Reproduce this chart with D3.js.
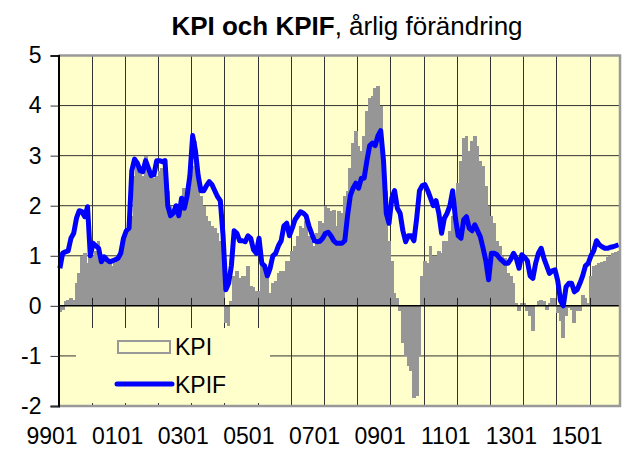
<!DOCTYPE html>
<html lang="sv">
  <head>
    <meta charset="UTF-8" />
    <title>KPI och KPIF</title>
    <script src="https://d3js.org/d3.v7.min.js"></script>
    <style>
      body { margin: 0; background: #fff; }
      svg text { font-family: "Liberation Sans", Arial, sans-serif; fill: #000; }
    </style>
  </head>
  <body>
    <div id="chart"></div>
    <script>
      // monthly values, 9901 .. 1511
      var kpi = [
        -0.12, -0.08, 0.1, 0.12, 0.15, 0.12, 0.45, 0.65, 1.0, 1.05, 0.85, 1.3, // 1999
        1.0, 1.1, 1.3, 0.85, 1.0, 0.9, 0.85, 0.8, 0.85, 0.9, 1.1, 1.3, // 2000
        1.5, 1.6, 1.8, 2.6, 2.9, 2.8, 2.6, 3.0, 2.7, 2.55, 2.55, 2.6, // 2001
        2.7, 2.75, 2.6, 2.3, 2.0, 1.9, 2.0, 1.9, 1.9, 2.35, 2.25, 2.35, // 2002
        2.8, 3.3, 2.5, 2.2, 2.0, 1.8, 1.7, 1.6, 1.55, 1.45, 1.3, 1.2, // 2003
        -0.35, -0.4, 0.1, 0.6, 0.7, 0.55, 0.6, 0.6, 0.8, 0.4, 0.38, 0.3, // 2004
        0.3, 0.85, 0.65, 0.6, 0.25, 0.45, 0.5, 0.65, 0.7, 0.7, 0.9, 0.9, // 2005
        1.1, 1.2, 1.4, 1.6, 1.55, 1.7, 1.4, 1.3, 1.2, 1.45, 1.7, 1.65, // 2006
        2.0, 1.95, 1.9, 1.92, 1.6, 1.9, 1.85, 2.2, 2.3, 2.75, 3.25, 3.5, // 2007
        3.2, 3.1, 3.4, 3.9, 4.15, 4.2, 4.35, 4.4, 4.0, 3.0, 2.3, 1.3, // 2008
        0.9, 0.25, 0.15, -0.1, -0.75, -1.0, -1.2, -1.3, -1.85, -1.8, -1.0, 0.6, // 2009
        0.9, 0.85, 1.2, 1.0, 1.0, 1.1, 1.05, 1.3, 1.3, 1.5, 1.8, 2.1, // 2010
        2.45, 2.9, 3.35, 3.4, 3.1, 3.3, 3.4, 3.2, 2.9, 2.8, 2.4, 2.0, // 2011
        1.8, 1.65, 1.3, 1.2, 1.0, 0.95, 0.65, 0.6, 0.45, 0.05, -0.1, 0.05, // 2012
        0.05, -0.1, -0.2, -0.5, 0.0, 0.1, 0.12, 0.1, -0.08, 0.05, 0.15, 0.15, // 2013
        -0.15, -0.3, -0.65, -0.2, -0.05, -0.08, -0.35, -0.1, -0.1, 0.22, 0.15, 0.05, // 2014
        0.6, 0.8, 0.82, 0.85, 0.88, 0.9, 0.98, 1.0, 1.05, 1.08, 1.1 // 2015
      ];

      var kpif = [
        0.75, 1.05, 1.08, 1.1, 1.35, 1.45, 1.75, 1.9, 1.88, 1.78, 1.98, 1.0, // 1999
        1.25, 1.2, 1.15, 0.88, 0.98, 0.92, 0.88, 0.9, 0.92, 0.95, 1.05, 1.35, // 2000
        1.5, 1.55, 2.7, 2.93, 2.85, 2.7, 2.68, 2.9, 2.75, 2.6, 2.62, 2.9, // 2001
        2.9, 2.88, 2.9, 2.0, 1.8, 1.85, 2.0, 1.8, 2.15, 1.95, 2.2, 2.6, // 2002
        3.4, 3.1, 2.6, 2.3, 2.3, 2.4, 2.48, 2.42, 2.3, 2.18, 2.1, 1.4, // 2003
        0.32, 0.45, 0.8, 1.5, 1.45, 1.3, 1.3, 1.28, 1.4, 1.35, 1.12, 1.05, // 2004
        1.35, 0.85, 0.8, 0.6, 0.75, 1.0, 1.05, 1.2, 1.3, 1.6, 1.65, 1.4, // 2005
        1.55, 1.72, 1.8, 1.88, 1.85, 1.8, 1.6, 1.45, 1.3, 1.28, 1.29, 1.35, // 2006
        1.45, 1.47, 1.4, 1.3, 1.25, 1.25, 1.25, 1.3, 1.8, 2.2, 2.35, 2.45, // 2007
        2.35, 2.55, 2.55, 2.9, 3.2, 3.25, 3.2, 3.4, 3.5, 2.9, 1.85, 1.65, // 2008
        2.15, 2.3, 1.95, 1.85, 1.5, 1.28, 1.4, 1.4, 1.3, 1.75, 2.3, 2.4, // 2009
        2.42, 2.3, 2.15, 2.0, 2.1, 1.85, 1.45, 1.75, 1.85, 2.0, 2.3, 1.75, // 2010
        1.4, 1.35, 1.72, 1.78, 1.55, 1.5, 1.62, 1.5, 1.38, 1.15, 0.9, 0.52, // 2011
        1.05, 1.05, 1.02, 0.95, 0.9, 0.85, 0.85, 0.93, 1.05, 0.95, 0.75, 1.02, // 2012
        0.97, 0.9, 0.6, 0.55, 0.85, 1.05, 1.15, 0.95, 0.8, 0.65, 0.7, 0.72, // 2013
        0.5, 0.1, 0.0, 0.38, 0.45, 0.45, 0.28, 0.32, 0.45, 0.6, 0.8, 0.85, // 2014
        1.0, 1.1, 1.3, 1.22, 1.18, 1.15, 1.15, 1.17, 1.18, 1.2, 1.22 // 2015
      ];

      var tickLabels = ["9901", "0101", "0301", "0501", "0701", "0901", "1101", "1301", "1501"];
      var yTicks = [-2, -1, 0, 1, 2, 3, 4, 5];
      var seriesNames = ["KPI", "KPIF"];

      var width = 626,
        height = 450;
      var margin = { top: 55.5, right: 6, bottom: 44, left: 58.5 };
      var plotW = width - margin.left - margin.right,
        plotH = height - margin.top - margin.bottom;

      var months = d3.range(kpi.length);

      var svg = d3
        .select("#chart")
        .append("svg")
        .attr("width", width)
        .attr("height", height);

      var x = d3.scaleBand().domain(months).range([margin.left, margin.left + plotW]).padding(0);
      var y = d3.scaleLinear().domain([-2, 5]).range([margin.top + plotH, margin.top]);

      // plot background
      svg
        .append("rect")
        .attr("x", margin.left)
        .attr("y", margin.top)
        .attr("width", plotW)
        .attr("height", plotH)
        .attr("fill", "#ffffcc");

      // horizontal grid
      svg
        .append("g")
        .selectAll("line")
        .data(yTicks.filter((d) => d > -2 && d < 5 && d != 0))
        .enter()
        .append("line")
        .attr("x1", margin.left)
        .attr("x2", margin.left + plotW)
        .attr("y1", (d) => y(d))
        .attr("y2", (d) => y(d))
        .attr("stroke", "#333")
        .attr("stroke-width", 1);

      // vertical grid, one line per year
      var yearStarts = months.filter((m) => m % 12 == 0 && m > 0);
      svg
        .append("g")
        .selectAll("line")
        .data(yearStarts)
        .enter()
        .append("line")
        .attr("x1", (d) => Math.round(x(d)) + 0.5)
        .attr("x2", (d) => Math.round(x(d)) + 0.5)
        .attr("y1", margin.top)
        .attr("y2", margin.top + plotH)
        .attr("stroke", "#333")
        .attr("stroke-width", 1);

      // KPI bars
      svg
        .append("g")
        .attr("shape-rendering", "crispEdges")
        .selectAll("rect")
        .data(kpi)
        .enter()
        .append("rect")
        .attr("x", (d, i) => Math.floor(x(i)))
        .attr("width", (d, i) => Math.ceil(x(i) + x.bandwidth()) - Math.floor(x(i)))
        .attr("y", (d) => y(Math.max(0, d)))
        .attr("height", (d) => Math.abs(y(d) - y(0)))
        .attr("fill", "#969696");

      // zero line + tick marks
      svg
        .append("line")
        .attr("x1", margin.left)
        .attr("x2", margin.left + plotW)
        .attr("y1", y(0))
        .attr("y2", y(0))
        .attr("stroke", "#000")
        .attr("stroke-width", 1.5);
      svg
        .append("g")
        .selectAll("line")
        .data(yearStarts)
        .enter()
        .append("line")
        .attr("x1", (d) => Math.round(x(d)) + 0.5)
        .attr("x2", (d) => Math.round(x(d)) + 0.5)
        .attr("y1", y(0) - 8)
        .attr("y2", y(0))
        .attr("stroke", "#222")
        .attr("stroke-width", 1);

      // KPIF line
      var line = d3
        .line()
        .x((d, i) => x(i) + x.bandwidth() / 2)
        .y((d) => y(d));
      svg
        .append("path")
        .datum(kpif)
        .attr("d", line)
        .attr("fill", "none")
        .attr("stroke", "#0000ff")
        .attr("stroke-width", 5)
        .attr("stroke-linejoin", "round");

      // plot border (grey) and left axis
      svg
        .append("path")
        .attr(
          "d",
          "M" + margin.left + "," + margin.top + "H" + (margin.left + plotW) + "V" + (margin.top + plotH) + "H" + margin.left
        )
        .attr("fill", "none")
        .attr("stroke", "#999")
        .attr("stroke-width", 2.5);

      var yAxis = d3
        .axisLeft(y)
        .tickValues(yTicks)
        .tickSize(8)
        .tickPadding(9)
        .tickFormat((d) => String(d));
      var ya = svg
        .append("g")
        .attr("transform", "translate(" + margin.left + ",0)")
        .call(yAxis);
      ya.select(".domain").attr("stroke", "#000").attr("stroke-width", 2);
      ya.selectAll(".tick line").attr("stroke", "#333");
      ya.selectAll(".tick text").attr("font-size", 23).attr("fill", "#000");

      // legend (covers the grid)
      var legend = svg.append("g");
      legend
        .append("rect")
        .attr("x", 76)
        .attr("y", 328)
        .attr("width", 194)
        .attr("height", 75)
        .attr("fill", "#ffffcc");
      legend
        .append("rect")
        .attr("x", 118)
        .attr("y", 341)
        .attr("width", 52)
        .attr("height", 12)
        .attr("fill", "#ffffcc")
        .attr("stroke", "#999")
        .attr("stroke-width", 2);
      legend
        .append("line")
        .attr("x1", 117)
        .attr("x2", 172)
        .attr("y1", 384)
        .attr("y2", 384)
        .attr("stroke", "#0000ff")
        .attr("stroke-width", 5)
        .attr("stroke-linecap", "round");
      legend
        .selectAll("text")
        .data(seriesNames)
        .enter()
        .append("text")
        .attr("x", 175)
        .attr("y", (d, i) => 355 + i * 38)
        .attr("font-size", 23)
        .text((d) => d);

      // x labels, every second year
      var xl = d3.scalePoint().domain(tickLabels).range([52, 577]);
      svg
        .append("g")
        .selectAll("text")
        .data(tickLabels)
        .enter()
        .append("text")
        .attr("x", (d) => xl(d))
        .attr("y", 444)
        .attr("text-anchor", "middle")
        .attr("font-size", 23)
        .text((d) => d);

      // title
      var title = svg
        .append("text")
        .attr("x", 347)
        .attr("y", 35)
        .attr("text-anchor", "middle")
        .attr("font-size", 26);
      title.append("tspan").attr("font-weight", "bold").text("KPI och KPIF");
      title.append("tspan").text(", årlig förändring");
    </script>
  </body>
</html>
